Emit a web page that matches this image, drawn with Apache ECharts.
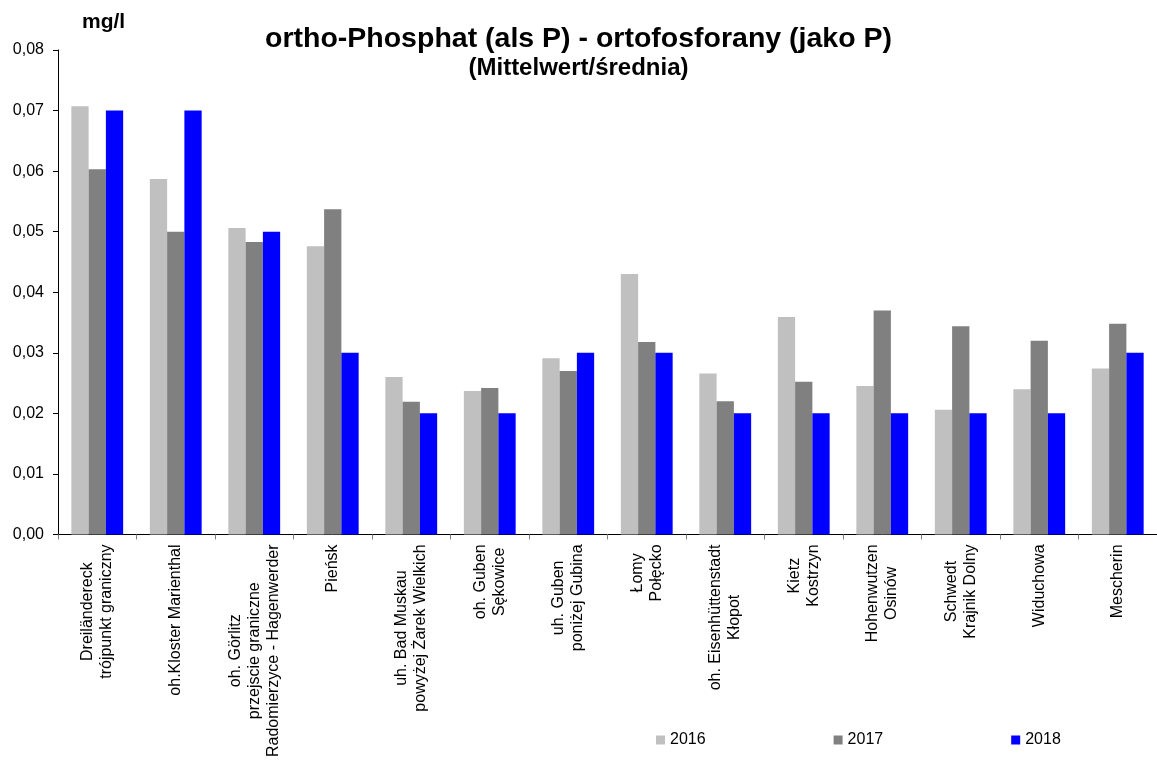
<!DOCTYPE html>
<html>
<head>
<meta charset="utf-8">
<script src="https://cdn.jsdelivr.net/npm/echarts@6/dist/echarts.min.js"></script>
<style>
html,body{margin:0;padding:0;background:#fff;}
#chart{width:1157px;height:760px;}
</style>
</head>
<body>
<div id="chart"></div>
<script>
const categories = [
  "Dreiländereck\ntrójpunkt graniczny",
  "oh.Kloster Marienthal",
  "oh. Görlitz\nprzejscie graniczne\nRadomierzyce - Hagenwerder",
  "Pieńsk",
  "uh. Bad Muskau\npowyżej Żarek Wielkich",
  "oh. Guben\nSękowice",
  "uh. Guben\nponiżej Gubina",
  "Łomy\nPołęcko",
  "oh. Eisenhüttenstadt\nKłopot",
  "Kietz\nKostrzyn",
  "Hohenwutzen\nOsinów",
  "Schwedt\nKrajnik Dolny",
  "Widuchowa",
  "Mescherin"
];
const values2016 = [0.0707, 0.0587, 0.0506, 0.0476, 0.0260, 0.0237, 0.0291, 0.0430, 0.0266, 0.0359, 0.0245, 0.0206, 0.0240, 0.0274];
const values2017 = [0.0603, 0.0500, 0.0483, 0.0537, 0.0219, 0.0242, 0.0270, 0.0318, 0.0220, 0.0252, 0.0370, 0.0344, 0.0320, 0.0348];
const values2018 = [0.070, 0.070, 0.050, 0.030, 0.020, 0.020, 0.030, 0.030, 0.020, 0.020, 0.020, 0.020, 0.020, 0.030];
const seriesNames = ["2016", "2017", "2018"];
const yTicks = { min: 0, max: 0.08, interval: 0.01 };

const FONT = '"Liberation Sans", Arial, Helvetica, sans-serif';
const chart = echarts.init(document.getElementById('chart'), null, { renderer: 'canvas' });

const option = {
  animation: false,
  backgroundColor: '#ffffff',
  textStyle: { fontFamily: FONT, color: '#000' },
  title: [
    {
      text: 'ortho-Phosphat (als P) - ortofosforany (jako P)',
      left: 'center', top: 25, padding: 0,
      textStyle: { fontFamily: FONT, fontSize: 28.5, fontWeight: 'bold', color: '#000' }
    },
    {
      text: '(Mittelwert/średnia)',
      left: 'center', top: 56, padding: 0,
      textStyle: { fontFamily: FONT, fontSize: 24, fontWeight: 'bold', color: '#000' }
    },
    {
      text: 'mg/l',
      left: 82, top: 12, padding: 0,
      textStyle: { fontFamily: FONT, fontSize: 21, fontWeight: 'bold', color: '#000' }
    }
  ],
  legend: {
    left: 656, top: 732, padding: 0,
    itemWidth: 9, itemHeight: 9, itemGap: 128,
    icon: 'rect',
    data: seriesNames,
    textStyle: { fontFamily: FONT, fontSize: 16, color: '#000' }
  },
  grid: { left: 58, right: -5, top: 50, bottom: 222, containLabel: false },
  xAxis: {
    type: 'category',
    data: categories,
    axisLine: { show: true, lineStyle: { color: '#000', width: 1 } },
    axisTick: { show: true, length: 5, lineStyle: { color: '#808080' } },
    axisLabel: {
      interval: 0,
      rotate: 90,
      margin: 10,
      fontFamily: FONT,
      fontSize: 16,
      color: '#000',
      formatter: function (v) {
        return v.split('\n').map(function (l) { return '{c|' + l + '}'; }).join('\n');
      },
      rich: {
        c: { align: 'center', fontFamily: FONT, fontSize: 16, lineHeight: 19, color: '#000' }
      }
    }
  },
  yAxis: {
    type: 'value',
    min: yTicks.min, max: yTicks.max, interval: yTicks.interval,
    splitLine: { show: false },
    axisLine: { show: true, lineStyle: { color: '#000', width: 1 } },
    axisTick: { show: true, length: 5, lineStyle: { color: '#000' } },
    axisLabel: {
      margin: 14,
      fontFamily: FONT, fontSize: 16, color: '#000',
      formatter: function (v) { return v.toFixed(2).replace('.', ','); }
    }
  },
  series: [
    { name: seriesNames[0], type: 'bar', data: values2016, barGap: '0%', barCategoryGap: '34%', itemStyle: { color: '#C0C0C0' } },
    { name: seriesNames[1], type: 'bar', data: values2017, barGap: '0%', barCategoryGap: '34%', itemStyle: { color: '#808080' } },
    { name: seriesNames[2], type: 'bar', data: values2018, barGap: '0%', barCategoryGap: '34%', itemStyle: { color: '#0000FF' } }
  ]
};
chart.setOption(option);
</script>
</body>
</html>
